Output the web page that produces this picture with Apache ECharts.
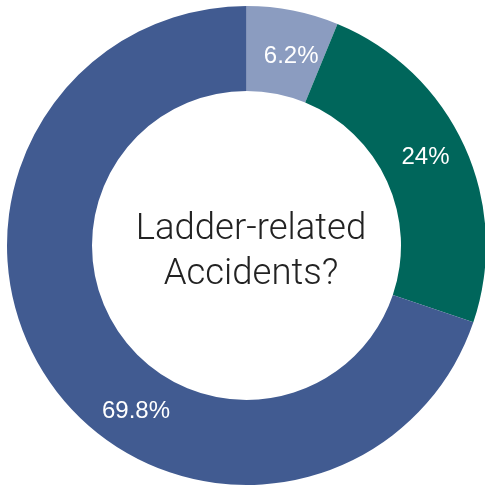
<!DOCTYPE html>
<html>
<head>
<meta charset="utf-8">
<style>
  html, body { margin: 0; padding: 0; background: #ffffff; }
  #chart { width: 485px; height: 486px; }
</style>
<script src="https://cdn.jsdelivr.net/npm/echarts@6/dist/echarts.min.js"></script>
</head>
<body>
<div id="chart"></div>
<script>
// Share of accidents, clockwise from 12 o'clock
const categories = ['Slice A', 'Slice B', 'Slice C'];
const shares = [6.2, 24, 69.8];
const labels = ['6.2%', '24%', '69.8%'];
const colors = ['#8b9cc0', '#00665b', '#415b91'];
const centerText = 'Ladder-related\nAccidents?';

// Fine placement tweaks for the in-ring labels
const labelShift = [[6, 7], [-3, -5], [52, 49]];

const chart = echarts.init(document.getElementById('chart'), null, { renderer: 'canvas' });

chart.setOption({
  animation: false,
  title: {
    text: centerText,
    left: 246,
    top: 202,
    textAlign: 'center',
    textStyle: {
      fontFamily: 'Roboto',
      fontWeight: 300,
      fontSize: 36.5,
      lineHeight: 45,
      color: '#222222'
    }
  },
  series: [{
    type: 'pie',
    center: [246.5, 245.5],
    radius: [154.5, 239.5],
    startAngle: 90,
    clockwise: true,
    silent: true,
    label: {
      show: true,
      position: 'inside',
      color: '#ffffff',
      fontFamily: 'Liberation Sans',
      fontSize: 24,
      formatter: p => labels[p.dataIndex]
    },
    labelLine: { show: false },
    labelLayout: p => ({ dx: labelShift[p.dataIndex][0], dy: labelShift[p.dataIndex][1] }),
    itemStyle: { borderWidth: 0 },
    data: categories.map((name, i) => ({
      name: name,
      value: shares[i],
      itemStyle: { color: colors[i] }
    }))
  }]
});
</script>
</body>
</html>
